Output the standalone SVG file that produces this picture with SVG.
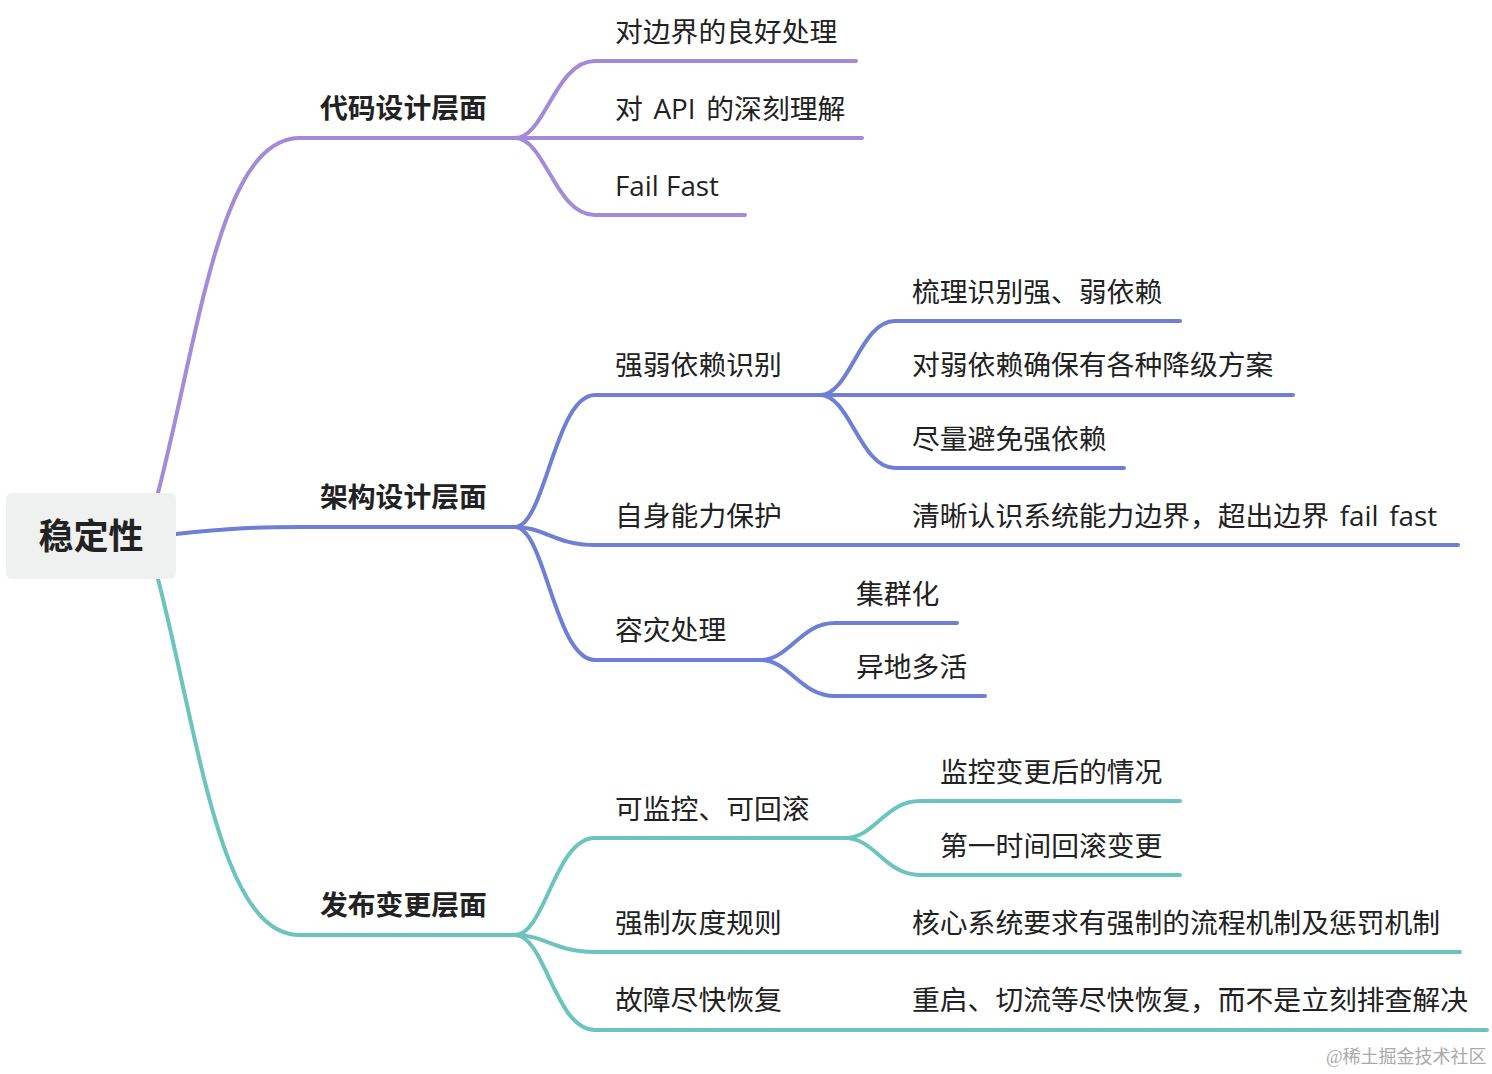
<svg xmlns="http://www.w3.org/2000/svg" width="1492" height="1074" viewBox="0 0 1492 1074">
<style>
.l{fill:none;stroke-width:4;stroke-linecap:round}
.p{stroke:#A38BDA}
.b{stroke:#6E7FD5}
.t{stroke:#6CC4BE}
text{font-family:"Open Sans","Noto Sans CJK SC",sans-serif;fill:#222;font-size:27.8px}
.m{font-weight:bold}
.r{font-weight:bold;font-size:35px}
.ws{word-spacing:3.5px}
.w{font-family:"Liberation Serif","Noto Sans CJK SC",serif;fill:#aaa;font-size:18px}
</style>
<rect width="1492" height="1074" fill="#fff"/>
<g id="connectors">
<path class="l p" d="M158,493 C200,330 220,138 300,138 L515,138"/>
<path class="l b" d="M176,534 C230,528 260,527 300,527 L515,527"/>
<path class="l t" d="M158,579 C200,742 220,935 300,935 L515,935"/>
<path class="l p" d="M515,138 C545,138 555,61 595,61 L856,61"/>
<path class="l p" d="M515,138 L862,138"/>
<path class="l p" d="M515,138 C545,138 555,215 595,215 L745,215"/>
<path class="l b" d="M515,527 C545,527 555,395 595,395 L820,395"/>
<path class="l b" d="M515,527 C545,527 555,545 595,545 L1458,545"/>
<path class="l b" d="M515,527 C545,527 555,660 595,660 L760,660"/>
<path class="l b" d="M820,395 C850,395 860,321 895,321 L1180,321"/>
<path class="l b" d="M820,395 L1293,395"/>
<path class="l b" d="M820,395 C850,395 860,468 895,468 L1124,468"/>
<path class="l b" d="M760,660 C790,660 800,623 835,623 L957,623"/>
<path class="l b" d="M760,660 C790,660 800,696 835,696 L985,696"/>
<path class="l t" d="M515,935 C545,935 555,838 595,838 L845,838"/>
<path class="l t" d="M515,935 C545,935 555,952 595,952 L1460,952"/>
<path class="l t" d="M515,935 C545,935 555,1030 595,1030 L1487,1030"/>
<path class="l t" d="M845,838 C875,838 885,801 920,801 L1180,801"/>
<path class="l t" d="M845,838 C875,838 885,875 920,875 L1180,875"/>
</g>
<g id="root"><rect x="6" y="493" width="170" height="86" rx="6" fill="#EFF0F0"/><text class="r" x="91" y="549" text-anchor="middle">稳定性</text></g>
<g id="n1"><text class="m" x="320" y="118">代码设计层面</text></g>
<g id="n2"><text class="m" x="320" y="507">架构设计层面</text></g>
<g id="n3"><text class="m" x="320" y="915">发布变更层面</text></g>
<g id="n1a"><text x="615" y="42">对边界的良好处理</text></g>
<g id="n1b"><text class="ws" x="615" y="119">对 API 的深刻理解</text></g>
<g id="n1c"><text x="615" y="196">Fail Fast</text></g>
<g id="n2a"><text x="615" y="375">强弱依赖识别</text></g>
<g id="n2a1"><text x="912" y="302">梳理识别强、弱依赖</text></g>
<g id="n2a2"><text x="912" y="375">对弱依赖确保有各种降级方案</text></g>
<g id="n2a3"><text x="912" y="449">尽量避免强依赖</text></g>
<g id="n2b"><text x="615" y="526">自身能力保护</text></g>
<g id="n2b1"><text class="ws" x="912" y="526">清晰认识系统能力边界，超出边界 fail fast</text></g>
<g id="n2c"><text x="615" y="640">容灾处理</text></g>
<g id="n2c1"><text x="856" y="604">集群化</text></g>
<g id="n2c2"><text x="856" y="677">异地多活</text></g>
<g id="n3a"><text x="615" y="819">可监控、可回滚</text></g>
<g id="n3a1"><text x="940" y="782">监控变更后的情况</text></g>
<g id="n3a2"><text x="940" y="856">第一时间回滚变更</text></g>
<g id="n3b"><text x="615" y="933">强制灰度规则</text></g>
<g id="n3b1"><text x="912" y="933">核心系统要求有强制的流程机制及惩罚机制</text></g>
<g id="n3c"><text x="615" y="1010">故障尽快恢复</text></g>
<g id="n3c1"><text x="912" y="1010">重启、切流等尽快恢复，而不是立刻排查解决</text></g>
<text class="w" x="1326" y="1063">@稀土掘金技术社区</text>
</svg>
